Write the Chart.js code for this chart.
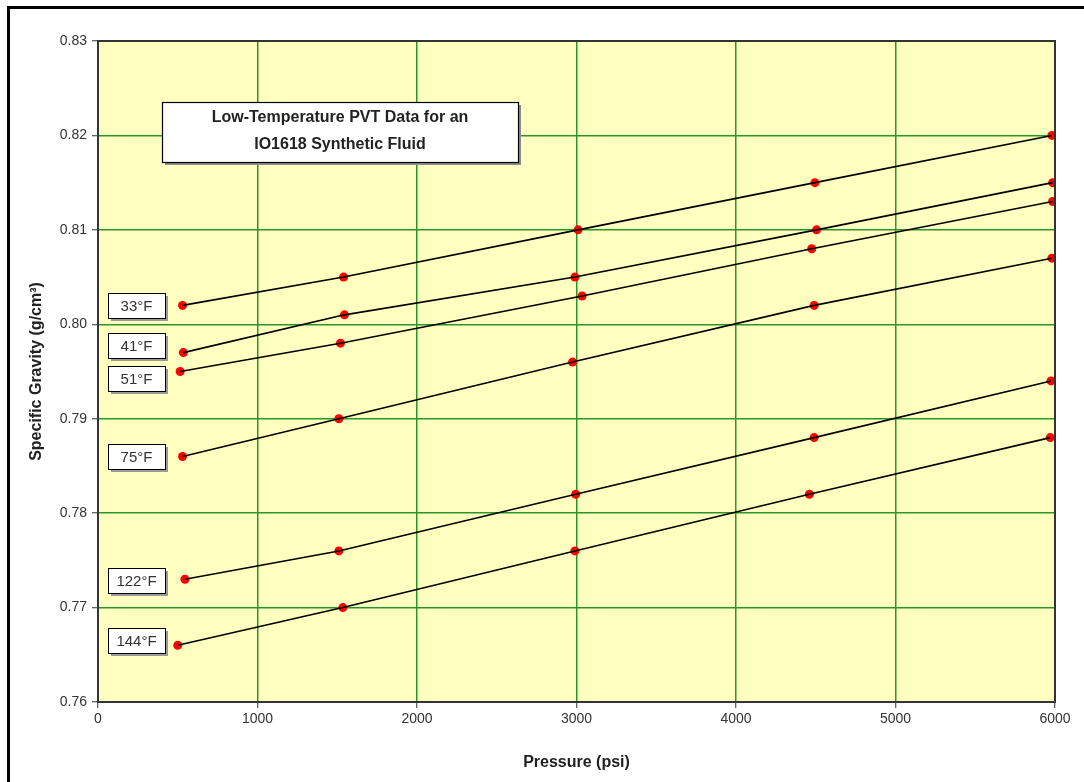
<!DOCTYPE html>
<html>
<head>
<meta charset="utf-8">
<script src="https://cdn.jsdelivr.net/npm/chart.js@4/dist/chart.umd.min.js"></script>
<style>
html,body{margin:0;padding:0;background:#fff;}
#wrap{width:1084px;height:782px;position:relative;}
</style>
</head>
<body>
<div id="wrap"><canvas id="c" width="1084" height="782"></canvas></div>
<script>
// ---- Data ----
const seriesNames = ["33°F", "41°F", "51°F", "75°F", "122°F", "144°F"];

const p33  = [530, 1540, 3010, 4495, 5980];
const sg33 = [0.802, 0.805, 0.810, 0.815, 0.820];
const p41  = [535, 1545, 2990, 4505, 5985];
const sg41 = [0.797, 0.801, 0.805, 0.810, 0.815];
const p51  = [515, 1520, 3035, 4475, 5985];
const sg51 = [0.795, 0.798, 0.803, 0.808, 0.813];
const p75  = [530, 1510, 2975, 4490, 5980];
const sg75 = [0.786, 0.790, 0.796, 0.802, 0.807];
const p122  = [545, 1510, 2995, 4490, 5975];
const sg122 = [0.773, 0.776, 0.782, 0.788, 0.794];
const p144  = [500, 1535, 2990, 4460, 5970];
const sg144 = [0.766, 0.770, 0.776, 0.782, 0.788];

// label anchor values (specific gravity at box centre)
const labelSG = [0.8020, 0.7978, 0.7943, 0.7860, 0.7729, 0.7665];

const xTicks = [0, 1000, 2000, 3000, 4000, 5000, 6000];
const titleLines = ["Low-Temperature PVT Data for an", "IO1618 Synthetic Fluid"];

// ---- Build datasets ----
const pts = [[p33,sg33],[p41,sg41],[p51,sg51],[p75,sg75],[p122,sg122],[p144,sg144]];
const zip = (xs, ys) => xs.map((x, i) => ({x: x, y: ys[i]}));

const datasets = [];
pts.forEach((s, i) => datasets.push({
  type: 'scatter', label: seriesNames[i] + ' line', data: zip(s[0], s[1]),
  showLine: true, borderColor: '#000', borderWidth: 1.6, pointRadius: 0, fill: false, order: 0
}));
pts.forEach((s, i) => datasets.push({
  type: 'scatter', label: seriesNames[i], data: zip(s[0], s[1]),
  pointBackgroundColor: '#ff0000', pointBorderColor: '#ff0000', pointBorderWidth: 0,
  pointRadius: 4.5, showLine: false, order: 1
}));

const FONT = "'Liberation Sans', Arial, Helvetica, sans-serif";

const decor = {
  id: 'decor',
  beforeDraw(chart) {
    const {ctx, chartArea: a} = chart;
    ctx.save();
    ctx.fillStyle = '#fff';
    ctx.fillRect(0, 0, chart.width, chart.height);
    // outer frame (left and top)
    ctx.fillStyle = '#000';
    ctx.fillRect(7, 6, 3, chart.height - 6);
    ctx.fillRect(7, 6, chart.width - 7, 3);
    // plot area
    ctx.fillStyle = '#ffffc0';
    ctx.fillRect(a.left, a.top, a.right - a.left, a.bottom - a.top);
    ctx.restore();
  },
  afterDraw(chart) {
    const {ctx, chartArea: a, scales} = chart;
    ctx.save();
    ctx.strokeStyle = '#333';
    ctx.lineWidth = 2;
    ctx.strokeRect(a.left, a.top, a.right - a.left, a.bottom - a.top);

    // title box
    const bx = 162, by = 102, bw = 356, bh = 60;
    ctx.fillStyle = '#8c8c8c';
    ctx.fillRect(bx + 3, by + 3, bw, bh);
    ctx.fillStyle = '#fff';
    ctx.fillRect(bx, by, bw, bh);
    ctx.strokeStyle = '#000';
    ctx.lineWidth = 1.2;
    ctx.strokeRect(bx + 0.5, by + 0.5, bw, bh);
    ctx.fillStyle = '#222';
    ctx.font = 'bold 16px ' + FONT;
    ctx.textAlign = 'center';
    ctx.textBaseline = 'middle';
    ctx.fillText(titleLines[0], bx + bw / 2, 118);
    ctx.fillText(titleLines[1], bx + bw / 2, 145);

    // series labels
    const ys = scales.y;
    ctx.font = '15px ' + FONT;
    labelSG.forEach((v, i) => {
      const cy = ys.getPixelForValue(v);
      const lx = 108, lw = 57, lh = 25, ly = Math.round(cy - lh / 2);
      ctx.fillStyle = '#9a9a9a';
      ctx.fillRect(lx + 3, ly + 3, lw, lh);
      ctx.fillStyle = '#fff';
      ctx.fillRect(lx, ly, lw, lh);
      ctx.strokeStyle = '#000';
      ctx.lineWidth = 1;
      ctx.strokeRect(lx + 0.5, ly + 0.5, lw, lh);
      ctx.fillStyle = '#333';
      ctx.fillText(seriesNames[i], lx + lw / 2, ly + lh / 2 + 1);
    });
    ctx.restore();
  }
};

new Chart(document.getElementById('c'), {
  data: { datasets: datasets },
  options: {
    responsive: false,
    animation: false,
    layout: { padding: { left: 0, top: 41, right: 29, bottom: 0 } },
    plugins: { legend: { display: false }, tooltip: { enabled: false } },
    scales: {
      x: {
        type: 'linear', min: 0, max: 6000,
        afterBuildTicks: (s) => { s.ticks = xTicks.map(v => ({value: v})); },
        afterFit: (s) => { s.height = 80; },
        grid: { color: '#2a962a', lineWidth: 1.5, tickLength: 6, tickColor: '#333', tickWidth: 1 },
        border: { color: '#333', width: 2 },
        ticks: { color: '#333', font: { family: FONT, size: 14 }, padding: 3, maxRotation: 0,
                 callback: (v) => String(v) },
        title: { display: true, text: 'Pressure (psi)', color: '#222',
                 font: { family: FONT, size: 16, weight: 'bold' }, padding: { top: 0, bottom: 10 } }
      },
      y: {
        type: 'linear', min: 0.76, max: 0.83,
        ticks: { stepSize: 0.01, color: '#333', font: { family: FONT, size: 14 }, padding: 5,
                 callback: (v) => Number(v).toFixed(2) },
        afterFit: (s) => { s.width = 98; },
        grid: { color: '#2a962a', lineWidth: 1.5, tickLength: 6, tickColor: '#333', tickWidth: 1 },
        border: { color: '#333', width: 2 },
        title: { display: true, text: 'Specific Gravity (g/cm³)', color: '#222',
                 font: { family: FONT, size: 16, weight: 'bold' }, padding: { top: 27, bottom: 0 } }
      }
    }
  },
  plugins: [decor]
});
</script>
</body>
</html>
